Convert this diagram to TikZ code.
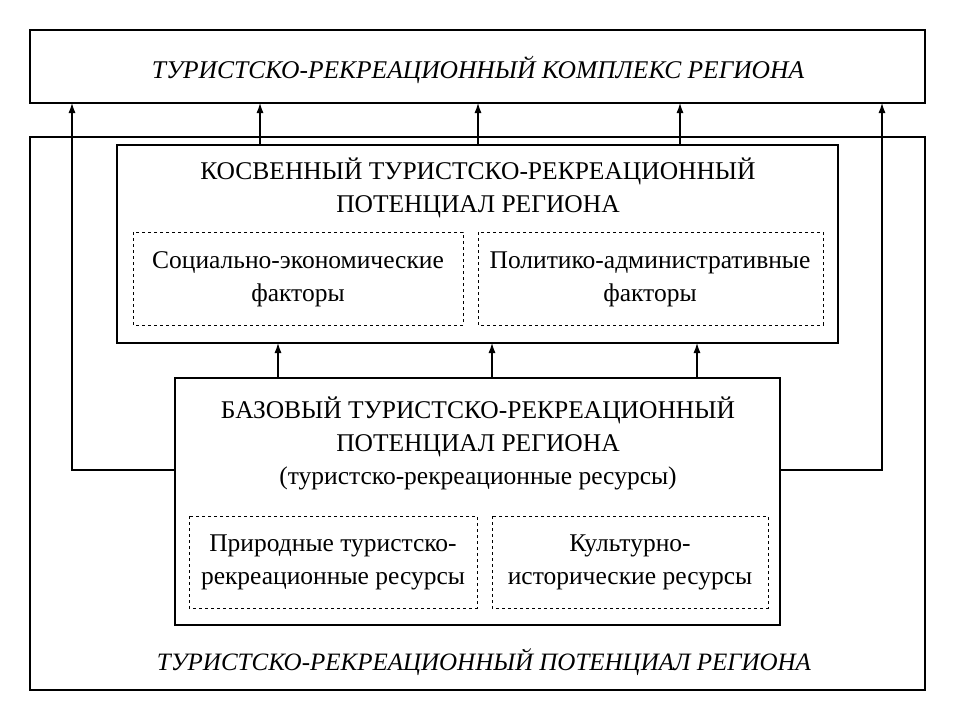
\documentclass[tikz,border=0pt]{standalone}
\usepackage{fontspec}
\setmainfont{Liberation Serif}
\usetikzlibrary{arrows.meta}
\begin{document}
\begin{tikzpicture}[x=1pt,y=-1pt,
  solidbox/.style={draw,line width=1.2pt},
  dashbox/.style={draw,dashed,line width=1pt},
  txt/.style={font=\fontsize{25.5}{33}\selectfont,align=center},
  ital/.style={font=\fontsize{25.5}{33}\selectfont\itshape},
  arr/.style={-{Latex[length=10pt,width=7pt]},line width=1.1pt}]
\useasboundingbox[fill=white] (0,0) rectangle (960,720);
\draw[solidbox] (30,30) rectangle (925,103);
\node[ital] (top) at (478,70) {ТУРИСТСКО-РЕКРЕАЦИОННЫЙ КОМПЛЕКС РЕГИОНА};
\draw[solidbox] (30,137) rectangle (925,690);
\node[ital,font=\fontsize{25}{33}\selectfont\itshape] (potl) at (484,662) {ТУРИСТСКО-РЕКРЕАЦИОННЫЙ ПОТЕНЦИАЛ РЕГИОНА};
\draw[solidbox] (117,145) rectangle (838,343);
\node[txt] (kos) at (478,188) {КОСВЕННЫЙ ТУРИСТСКО-РЕКРЕАЦИОННЫЙ\\ПОТЕНЦИАЛ РЕГИОНА};
\draw[dashbox] (133,232) rectangle (463,325);
\node[txt] (se) at (298,279) {Социально-экономические\\факторы};
\draw[dashbox] (478,232) rectangle (823,325);
\node[txt] (pa) at (650,279) {Политико-административные\\факторы};
\draw[solidbox] (175,378) rectangle (780,625);
\node[txt] (baz) at (478,443) {БАЗОВЫЙ ТУРИСТСКО-РЕКРЕАЦИОННЫЙ\\ПОТЕНЦИАЛ РЕГИОНА\\(туристско-рекреационные ресурсы)};
\draw[dashbox] (189,516) rectangle (477,608);
\node[txt] (pr) at (333,562) {Природные туристско-\\рекреационные ресурсы};
\draw[dashbox] (492,516) rectangle (768,608);
\node[txt] (ku) at (630,562) {Культурно-\\исторические ресурсы};
\foreach \x in {260,478,680} \draw[arr] (\x,145) -- (\x,103);
\foreach \x in {278,492,697} \draw[arr] (\x,378) -- (\x,343);
\draw[arr] (175,470) -- (72,470) -- (72,103);
\draw[arr] (780,470) -- (882,470) -- (882,103);
\end{tikzpicture}
\end{document}
